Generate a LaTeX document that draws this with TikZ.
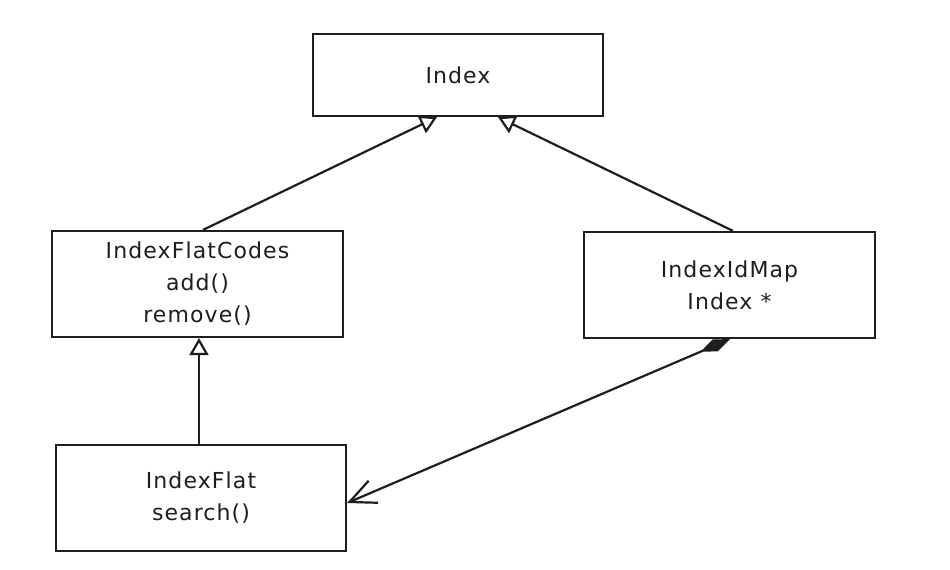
\documentclass[tikz,border=0pt]{standalone}
\usepackage{fontspec}
\newfontfamily\handfont[LetterSpace=5]{DejaVu Sans}
\usetikzlibrary{arrows.meta,calc}
\definecolor{ink}{HTML}{1E1E1E}
\tikzset{
  classbox/.style={draw=ink, line width=2.2pt, fill=white, rectangle, align=center,
    text=ink, font=\handfont\fontsize{22}{32}\selectfont, inner sep=0pt},
  inherit/.style={draw=ink, line width=2.2pt, -{Triangle[open, length=17pt, width=19pt, fill=white]}},
  compose/.style={draw=ink, line width=2.2pt, {Diamond[length=32pt, width=13pt, fill=ink]}-{Straight Barb[length=26pt, width=24pt]}},
}
\begin{document}
\begin{tikzpicture}[x=1pt, y=-1pt]
\useasboundingbox[fill=white] (0,0) rectangle (950,570);
\node[classbox, minimum width=290pt, minimum height=82pt] (idx) at (458,75) {Index};
\node[classbox, minimum width=291pt, minimum height=106pt] (ifc) at (197.5,284) {IndexFlatCodes\\add()\\remove()};
\node[classbox, minimum width=291pt, minimum height=106pt] (idm) at (729.5,285) {IndexIdMap\\Index *};
\node[classbox, minimum width=290pt, minimum height=106pt] (ifl) at (201,498) {IndexFlat\\search()};
\draw[inherit] ([xshift=5.5pt]ifc.north) -- ([xshift=-21pt]idx.south);
\draw[inherit] ([xshift=3.5pt]idm.north) -- ([xshift=40pt]idx.south);
\draw[inherit] ([xshift=-2pt]ifl.north) -- ([xshift=1.5pt]ifc.south);
\draw[compose] ([xshift=0.5pt]idm.south) -- ([yshift=-5pt]ifl.east);
\end{tikzpicture}
\end{document}
